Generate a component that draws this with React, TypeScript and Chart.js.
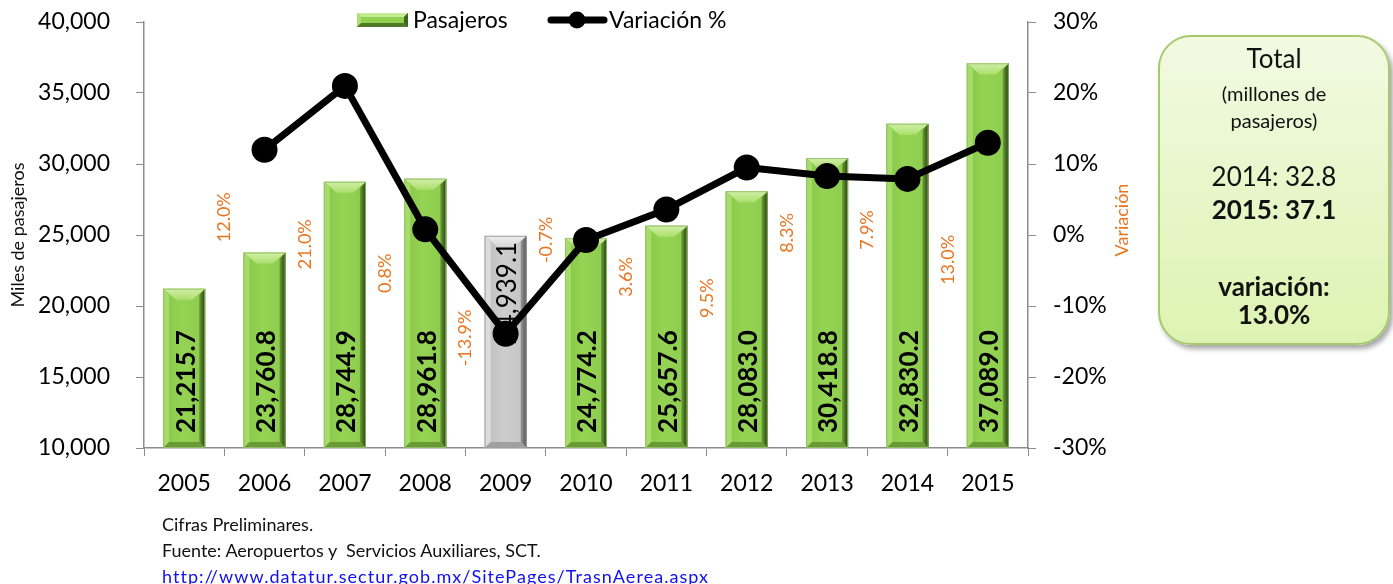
import React, { useEffect, useRef } from "react";
import { Chart, registerables } from "chart.js";

Chart.register(...registerables);

// ---------------- data ----------------
const years = ["2005", "2006", "2007", "2008", "2009", "2010", "2011", "2012", "2013", "2014", "2015"];
const pasajeros = [21215.7, 23760.8, 28744.9, 28961.8, 24939.1, 24774.2, 25657.6, 28083.0, 30418.8, 32830.2, 37089.0];
const variacion: (number | null)[] = [null, 12.0, 21.0, 0.8, -13.9, -0.7, 3.6, 9.5, 8.3, 7.9, 13.0];
const leftTicks = { min: 10000, max: 40000, step: 5000 };
const rightTicks = { min: -30, max: 30, step: 10 };
const highlightYear = "2009";
const seriesNames = ["Pasajeros", "Variación %"];
const axisTitles = ["Miles de pasajeros", "Variación"];
const totalTitle = "Total";
const totalSubtitle = ["(millones de", "pasajeros)"];
const totalPrev = "2014: 32.8";
const totalCurr = "2015: 37.1";
const totalVarLabel = ["variación:", "13.0%"];
const footerLines = ["Cifras Preliminares.", "Fuente: Aeropuertos y  Servicios Auxiliares, SCT."];
const footerLink = "http://www.datatur.sectur.gob.mx/SitePages/TrasnAerea.aspx";

// ---------------- styles ----------------
const FONT = "Lato, 'Open Sans', sans-serif";
const ORANGE = "#E9741F";
const AXIS_GRAY = "#8C8C8C";
// vertical anchor (right-axis units) of each rotated % label, label sits left of its bar
const pctLabelAnchor = [null, 2.5, -1.3, -5.4, -14.5, -0.7, -5.9, -8.9, 0.3, 0.7, -3.5];

const greenPal = {
  face: ["#86C646", "#95D354", "#8CCB4C"],
  left: "#A6DC69",
  right: ["#6C9F38", "#263F10"],
  top: ["#D0EFA6", "#ACDF6E"],
  bottom: "#6A9A36",
  outline: "rgba(150,190,110,0.9)",
};
const grayPal = {
  face: ["#BDBDBD", "#CDCDCD", "#C4C4C4"],
  left: "#DCDCDC",
  right: ["#9A9A9A", "#505050"],
  top: ["#EEEEEE", "#D6D6D6"],
  bottom: "#A0A0A0",
  outline: "rgba(160,160,160,0.9)",
};

function poly(ctx: CanvasRenderingContext2D, pts: number[][], fill: any) {
  ctx.beginPath();
  ctx.moveTo(pts[0][0], pts[0][1]);
  for (let i = 1; i < pts.length; i++) ctx.lineTo(pts[i][0], pts[i][1]);
  ctx.closePath();
  ctx.fillStyle = fill;
  ctx.fill();
}

function drawBevel(ctx: CanvasRenderingContext2D, x0: number, y0: number, x1: number, y1: number, pal: any, s = 6, s2 = 13, t = 11) {
  ctx.save();
  const g = ctx.createLinearGradient(x0, 0, x1, 0);
  g.addColorStop(0, pal.face[0]);
  g.addColorStop(0.45, pal.face[1]);
  g.addColorStop(1, pal.face[2]);
  ctx.fillStyle = g;
  ctx.fillRect(x0, y0, x1 - x0, y1 - y0);
  poly(ctx, [[x0, y0], [x0 + s, y0 + s], [x0 + s, y1 - s], [x0, y1]], pal.left);
  const gr = ctx.createLinearGradient(x1 - s, 0, x1, 0);
  gr.addColorStop(0, pal.right[0]);
  gr.addColorStop(1, pal.right[1]);
  poly(ctx, [[x1, y0], [x1 - s, y0 + s], [x1 - s, y1 - s], [x1, y1]], gr);
  poly(ctx, [[x0, y1], [x1, y1], [x1 - s, y1 - s], [x0 + s, y1 - s]], pal.bottom);
  const gt = ctx.createLinearGradient(0, y0, 0, y0 + t);
  gt.addColorStop(0, pal.top[0]);
  gt.addColorStop(1, pal.top[1]);
  const d = Math.min(t, (y1 - y0) / 2);
  poly(ctx, [[x0, y0], [x1, y0], [x1 - s2, y0 + d], [x0 + s2, y0 + d]], gt);
  ctx.strokeStyle = pal.outline;
  ctx.lineWidth = 1;
  ctx.strokeRect(x0 + 0.5, y0 + 0.5, x1 - x0 - 1, y1 - y0 - 1);
  ctx.restore();
}

const fmt = (v: number) => v.toLocaleString("en-US", { minimumFractionDigits: 1, maximumFractionDigits: 1 });

const decorPlugin = {
  id: "decor",
  afterDatasetDraw(chart: any, args: any) {
    if (args.index !== 0) return;
    const ctx: CanvasRenderingContext2D = chart.ctx;
    const meta = chart.getDatasetMeta(0);
    const y1 = chart.scales.y1;
    const area = chart.chartArea;
    meta.data.forEach((el: any, i: number) => {
      const { x, y, width } = el.getProps(["x", "y", "width"], true);
      const base = area.bottom;
      const hi = years[i] === highlightYear;
      drawBevel(ctx, x - width / 2, y, x + width / 2, base, hi ? grayPal : greenPal);
    });
    // bar value labels
    meta.data.forEach((el: any, i: number) => {
      const { x, y } = el.getProps(["x", "y"], true);
      const base = area.bottom;
      const hi = years[i] === highlightYear;
      ctx.save();
      ctx.fillStyle = "#000";
      if (hi) {
        ctx.translate(x, y + 6);
        ctx.rotate(-Math.PI / 2);
        ctx.textAlign = "right";
        ctx.textBaseline = "middle";
        ctx.font = `26px ${FONT}`;
      } else {
        ctx.translate(x, base - 15);
        ctx.rotate(-Math.PI / 2);
        ctx.textAlign = "left";
        ctx.textBaseline = "middle";
        ctx.font = `bold 26px ${FONT}`;
      }
      ctx.fillText(fmt(pasajeros[i]), 0, 2);
      ctx.restore();
    });
    // % labels
    meta.data.forEach((el: any, i: number) => {
      const v = variacion[i];
      const a = pctLabelAnchor[i];
      if (v == null || a == null) return;
      const { x, width } = el.getProps(["x", "width"], true);
      const cx = x - width / 2 - 19;
      const cy = y1.getPixelForValue(a);
      ctx.save();
      ctx.translate(cx, cy);
      ctx.rotate(-Math.PI / 2);
      ctx.textAlign = "center";
      ctx.textBaseline = "middle";
      ctx.font = `18px ${FONT}`;
      ctx.fillStyle = ORANGE;
      ctx.fillText(v.toFixed(1) + "%", 0, 0);
      ctx.restore();
    });
  },
  afterDraw(chart: any) {
    const ctx: CanvasRenderingContext2D = chart.ctx;
    const area = chart.chartArea;
    // right axis title
    const r = chart.scales.y1;
    ctx.save();
    ctx.translate(r.left + 94, (area.top + area.bottom) / 2 - 15);
    ctx.rotate(-Math.PI / 2);
    ctx.textAlign = "center";
    ctx.textBaseline = "middle";
    ctx.font = `18px ${FONT}`;
    ctx.fillStyle = ORANGE;
    ctx.fillText(axisTitles[1], 0, 0);
    ctx.restore();
    // legend
    ctx.save();
    const ly = 20;
    const bx = 357;
    drawBevelLegend(ctx, bx, ly - 7, bx + 51, ly + 7);
    ctx.font = `23px ${FONT}`;
    ctx.fillStyle = "#000";
    ctx.textBaseline = "middle";
    ctx.textAlign = "left";
    ctx.fillText(seriesNames[0], 413, ly + 1);
    ctx.strokeStyle = "#000";
    ctx.lineWidth = 7;
    ctx.lineCap = "round";
    ctx.beginPath();
    ctx.moveTo(551, ly);
    ctx.lineTo(604, ly);
    ctx.stroke();
    ctx.beginPath();
    ctx.arc(577, ly, 8.5, 0, Math.PI * 2);
    ctx.fillStyle = "#000";
    ctx.fill();
    ctx.fillText(seriesNames[1], 609, ly + 1);
    ctx.restore();
  },
};

function drawBevelLegend(ctx: CanvasRenderingContext2D, x0: number, y0: number, x1: number, y1: number) {
  ctx.save();
  ctx.fillStyle = "#92D050";
  ctx.fillRect(x0, y0, x1 - x0, y1 - y0);
  const s = 4;
  poly(ctx, [[x0, y0], [x1, y0], [x1 - s, y0 + s], [x0 + s, y0 + s]], "#C5EB94");
  poly(ctx, [[x0, y0], [x0 + s, y0 + s], [x0 + s, y1 - s], [x0, y1]], "#ABDF70");
  poly(ctx, [[x1, y0], [x1 - s, y0 + s], [x1 - s, y1 - s], [x1, y1]], "#3E6220");
  poly(ctx, [[x0, y1], [x1, y1], [x1 - s, y1 - s], [x0 + s, y1 - s]], "#4E7A28");
  ctx.restore();
}

export default function App() {
  const ref = useRef<HTMLCanvasElement | null>(null);
  useEffect(() => {
    if (!ref.current) return;
    const chart = new Chart(ref.current, {
      data: {
        labels: years,
        datasets: [
          {
            type: "bar",
            label: seriesNames[0],
            data: pasajeros,
            yAxisID: "y",
            backgroundColor: years.map((y) => (y === highlightYear ? "#C6C6C6" : "#92D050")),
            barPercentage: 0.523,
            categoryPercentage: 1,
            order: 2,
          },
          {
            type: "line",
            label: seriesNames[1],
            data: variacion,
            yAxisID: "y1",
            borderColor: "#000",
            backgroundColor: "#000",
            borderWidth: 7,
            borderJoinStyle: "round",
            pointRadius: 9.5,
            pointHoverRadius: 9.5,
            pointBackgroundColor: "#000",
            pointBorderColor: "#000",
            tension: 0,
            order: 1,
          },
        ],
      } as any,
      options: {
        responsive: false,
        animation: false,
        events: [],
        layout: { padding: { left: 0, top: 22, right: 245, bottom: 76 } },
        plugins: { legend: { display: false }, tooltip: { enabled: false } },
        scales: {
          x: {
            offset: true,
            grid: { display: true, drawOnChartArea: false, offset: true, tickLength: 8, color: AXIS_GRAY, tickColor: AXIS_GRAY },
            border: { color: AXIS_GRAY, width: 1.5 },
            ticks: { font: { family: FONT, size: 23 }, color: "#000", padding: 14, maxRotation: 0 },
            afterFit: (s: any) => { s.height = 60; s.paddingLeft = 0; s.paddingRight = 0; },
          },
          y: {
            position: "left",
            min: leftTicks.min,
            max: leftTicks.max,
            grid: { drawOnChartArea: false, tickLength: 8, color: AXIS_GRAY, tickColor: AXIS_GRAY },
            border: { color: AXIS_GRAY, width: 1.5 },
            ticks: {
              stepSize: leftTicks.step,
              font: { family: FONT, size: 23 },
              color: "#000",
              padding: 26,
              callback: (v: any) => Number(v).toLocaleString("en-US"),
            },
            title: { display: true, text: axisTitles[0], font: { family: FONT, size: 18 }, color: "#111", padding: { top: 7, bottom: 0 } },
            afterFit: (s: any) => { s.width = 144; s.paddingTop = 0; s.paddingBottom = 0; },
          },
          y1: {
            position: "right",
            min: rightTicks.min,
            max: rightTicks.max,
            grid: { drawOnChartArea: false, tickLength: 8, color: AXIS_GRAY, tickColor: AXIS_GRAY },
            border: { color: AXIS_GRAY, width: 1.5 },
            ticks: {
              stepSize: rightTicks.step,
              font: { family: FONT, size: 23 },
              color: "#000",
              padding: 17,
              callback: (v: any) => `${v}%`,
            },
            afterFit: (s: any) => { s.width = 120; s.paddingTop = 0; s.paddingBottom = 0; },
          },
        },
      } as any,
      plugins: [decorPlugin],
    });
    return () => chart.destroy();
  }, []);

  const lineDiv = (text: string, center: number, size: number, bold = false) => (
    <div
      style={{
        position: "absolute",
        left: 0,
        right: 0,
        top: center - 16,
        height: 32,
        lineHeight: "32px",
        fontSize: size,
        fontWeight: bold ? 700 : 400,
        textAlign: "center",
        whiteSpace: "nowrap",
      }}
    >
      {text}
    </div>
  );

  return (
    <div style={{ position: "absolute", left: 0, top: 0, width: 1393, height: 584, background: "#fff", fontFamily: FONT, overflow: "hidden" }}>
      <canvas ref={ref} width={1393} height={584} style={{ position: "absolute", left: 0, top: 0 }} />
      <div
        style={{
          position: "absolute",
          left: 1158,
          top: 35,
          width: 232,
          height: 310,
          boxSizing: "border-box",
          borderRadius: 33,
          border: "2px solid #A5C96C",
          background: "linear-gradient(180deg, #F2FAE2 0%, #DDF3B2 100%)",
          boxShadow: "3px 4px 5px rgba(0,0,0,0.35)",
          color: "#111",
        }}
      >
        {lineDiv(totalTitle, 21, 26)}
        {lineDiv(totalSubtitle[0], 56, 20)}
        {lineDiv(totalSubtitle[1], 83, 20)}
        {lineDiv(totalPrev, 139, 26)}
        {lineDiv(totalCurr, 172, 26, true)}
        {lineDiv(totalVarLabel[0], 249, 26, true)}
        {lineDiv(totalVarLabel[1], 277, 26, true)}
      </div>
      <div style={{ position: "absolute", left: 162, top: 511, fontSize: 18, lineHeight: "26px", color: "#111" }}>
        <div>{footerLines[0]}</div>
        <div style={{ whiteSpace: "pre" }}>{footerLines[1]}</div>
        <div>
          <a href={footerLink} style={{ color: "#1010F0", textDecoration: "underline", letterSpacing: "1.05px" }}>{footerLink}</a>
        </div>
      </div>
    </div>
  );
}
